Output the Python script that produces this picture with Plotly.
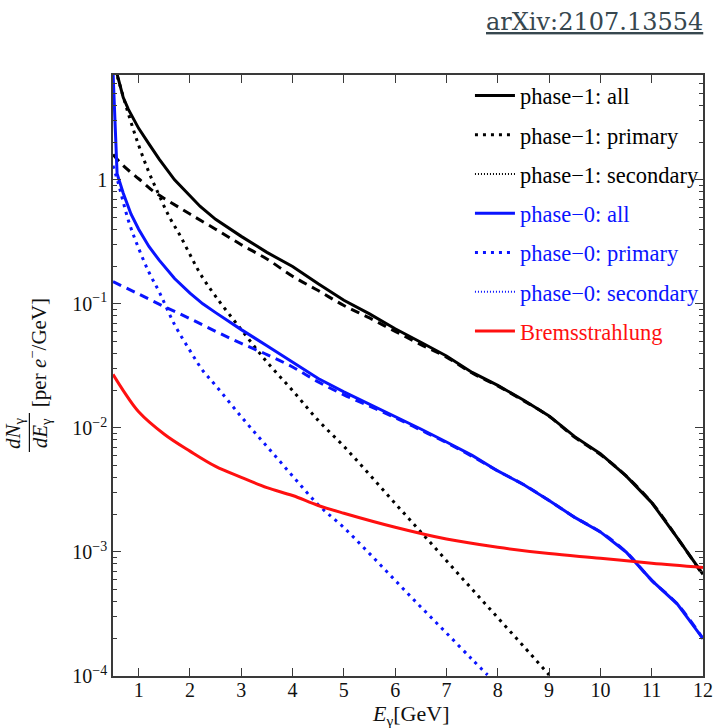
import plotly.graph_objects as go

# ---- photon spectra dN/dE [per e-/GeV] vs photon energy E [GeV] ----
p1_all_E = [0.5, 0.58, 0.7, 0.8, 1.0, 1.2, 1.4, 1.7, 2.0, 2.2, 2.5, 3.0, 3.5, 4.0, 4.5, 5.0,
            5.5, 6.0, 6.5, 7.0, 7.5, 8.0, 8.5, 9.0, 9.5, 10.0, 10.5, 11.0, 11.5, 12.0]
p1_all = [9.5, 7.0, 4.6, 3.7, 2.6, 1.95, 1.47, 1.0, 0.74, 0.61, 0.48, 0.35, 0.26, 0.2, 0.145, 0.107,
          0.083, 0.063, 0.049, 0.038, 0.028, 0.022, 0.0168, 0.0125, 0.0085, 0.0062, 0.0041, 0.0025, 0.0013, 0.00066]

p1_pri_E = [0.5, 0.7, 1.0, 1.3, 1.6, 2.0, 2.5, 3.0, 3.5, 4.0, 4.5, 5.0, 5.5, 6.0, 6.5, 7.0,
            7.5, 8.0, 8.5, 9.0, 9.5, 10.0, 10.5, 11.0, 11.5, 12.0]
p1_pri = [1.6, 1.3, 1.02, 0.8, 0.668, 0.53, 0.4, 0.3, 0.23, 0.167, 0.128, 0.097, 0.077, 0.060, 0.047, 0.0372,
          0.0277, 0.0218, 0.0166, 0.0124, 0.0084, 0.0061, 0.0041, 0.0025, 0.0013, 0.00065]

p1_sec_E = [0.5, 0.6, 0.8, 1.0, 1.2, 1.4, 1.6, 1.8, 2.0, 2.2, 2.5, 3.0, 3.5, 4.0, 4.5, 5.0,
            5.5, 6.0, 6.5, 7.0, 7.5, 8.0, 8.5, 9.0]
p1_sec = [9.0, 6.5, 3.4, 1.9, 1.15, 0.75, 0.5, 0.36, 0.25, 0.175, 0.115, 0.062, 0.034, 0.02, 0.0115, 0.0071,
          0.0042, 0.00246, 0.00145, 0.00085, 0.0005, 0.000295, 0.000174, 0.000102]

p0_all_E = [0.5, 0.54, 0.58, 0.7, 0.85, 1.0, 1.2, 1.4, 1.7, 2.0, 2.25, 2.5, 3.0, 3.5, 4.0, 4.5, 5.0,
            5.5, 6.0, 6.5, 7.0, 7.5, 8.0, 8.5, 9.0, 9.5, 10.0, 10.5, 11.0, 11.5, 12.0]
p0_all = [7.5, 2.5, 1.12, 0.78, 0.53, 0.4, 0.29, 0.225, 0.16, 0.122, 0.1, 0.085, 0.062, 0.046, 0.034, 0.025, 0.0195,
          0.0155, 0.0125, 0.0098, 0.0077, 0.006, 0.0045, 0.0035, 0.0026, 0.0019, 0.00145, 0.001, 0.00059, 0.00038, 0.0002]

p0_pri_E = [0.5, 1.0, 1.5, 2.0, 2.5, 3.0, 3.5, 4.0, 4.5, 5.0, 5.5, 6.0, 6.5, 7.0,
            7.5, 8.0, 8.5, 9.0, 9.5, 10.0, 10.5, 11.0, 11.5, 12.0]
p0_pri = [0.151, 0.12, 0.095, 0.076, 0.06, 0.048, 0.039, 0.031, 0.0235, 0.0185, 0.015, 0.0121, 0.0096, 0.0076,
          0.0059, 0.0045, 0.0035, 0.0026, 0.0019, 0.00145, 0.001, 0.00059, 0.00038, 0.0002]

p0_sec_E = [0.5, 0.6, 0.8, 1.0, 1.2, 1.4, 1.7, 2.0, 2.25, 2.5, 3.0, 3.5, 4.0, 4.5, 5.0, 5.5, 6.0, 6.5, 7.0, 7.5, 7.8]
p0_sec = [1.3, 0.95, 0.47, 0.28, 0.18, 0.125, 0.068, 0.042, 0.029, 0.022, 0.0123, 0.0071, 0.0041, 0.0024,
          0.00157, 0.00097, 0.00059, 0.00036, 0.000222, 0.000136, 0.000102]

brems_E = [0.5, 0.7, 1.0, 1.5, 2.0, 2.5, 3.0, 3.5, 4.0, 4.5, 5.0, 6.0, 7.0, 8.0, 9.0, 10.0, 11.0, 12.0]
brems = [0.027, 0.02, 0.0135, 0.0089, 0.0065, 0.0049, 0.0040, 0.0033, 0.00285, 0.00237, 0.00205,
         0.00158, 0.00127, 0.00109, 0.00097, 0.00089, 0.00081, 0.00075]

y_tickvals = [1e-4, 1e-3, 1e-2, 1e-1, 1]
y_ticktext = ["10<sup>−4</sup>", "10<sup>−3</sup>", "10<sup>−2</sup>", "10<sup>−1</sup>", "1"]
y_minor = [k * 10.0 ** e for e in range(-4, 1) for k in range(2, 10)]
x_tickvals = list(range(1, 13))

BLACK = "#000000"
BLUE = "#0a14ff"
RED = "#ff1010"
SERIF = "Liberation Serif"
AXC = "#3a3a3a"
TXT = "#111111"

DASH_PRI = "9px,6px"
DOT_SEC = "3px,5px"

fig = go.Figure()

# plotted curves (legend keys are added separately below)
curves = [
    (p1_all_E, p1_all, BLACK, "solid", "linear"),
    (p1_pri_E, p1_pri, BLACK, DASH_PRI, "spline"),
    (p1_sec_E, p1_sec, BLACK, DOT_SEC, "spline"),
    (p0_all_E, p0_all, BLUE, "solid", "linear"),
    (p0_pri_E, p0_pri, BLUE, DASH_PRI, "spline"),
    (p0_sec_E, p0_sec, BLUE, DOT_SEC, "spline"),
    (brems_E, brems, RED, "solid", "spline"),
]
for xs, ys, col, dash, shape in curves:
    fig.add_trace(go.Scatter(x=xs, y=ys, mode="lines", showlegend=False,
                             line=dict(color=col, width=3, dash=dash, shape=shape)))

# legend keys
legend_items = [
    ("phase−1: all", BLACK, "solid", 3),
    ("phase−1: primary", BLACK, "3px,5px", 3),
    ("phase−1: secondary", BLACK, "1px,2px", 2),
    ("phase−0: all", BLUE, "solid", 3),
    ("phase−0: primary", BLUE, "3px,5px", 3),
    ("phase−0: secondary", BLUE, "1px,2px", 2),
    ("Bremsstrahlung", RED, "solid", 3),
]
for i, (name, col, dash, w) in enumerate(legend_items):
    fig.add_trace(go.Scatter(x=[None], y=[None], mode="lines",
                             name=f"<span style='color:{col}'>{name}</span>",
                             legendgroup=f"g{i}",
                             line=dict(color=col, width=w, dash=dash)))

axis_common = dict(showline=True, linecolor=AXC, linewidth=1.5, mirror="allticks",
                   ticks="inside", ticklen=8, tickwidth=1.2, tickcolor=AXC,
                   showgrid=False, zeroline=False,
                   tickfont=dict(family=SERIF, size=20, color=TXT))

fig.update_xaxes(range=[0.5, 12], tickvals=x_tickvals, ticklabelstandoff=-5, **axis_common)
fig.update_yaxes(type="log", range=[-4, 0.845], tickvals=y_tickvals, ticktext=y_ticktext,
                 minor=dict(ticks="inside", ticklen=4, tickwidth=1, tickcolor=AXC,
                            tickvals=y_minor, showgrid=False),
                 **axis_common)

lab_font = dict(family=SERIF, size=21, color=TXT)

fig.update_layout(
    width=725, height=728,
    margin=dict(l=113, r=12, t=75, b=52),
    paper_bgcolor="white", plot_bgcolor="white",
    font=dict(family=SERIF, size=20, color=TXT),
    legend=dict(x=0.605, y=1.001, xanchor="left", yanchor="top",
                bgcolor="rgba(255,255,255,0)", borderwidth=0,
                font=dict(family=SERIF, size=22.5, color=TXT),
                tracegroupgap=7, itemwidth=40),
    annotations=[
        # y-axis label: fraction dN/dE followed by the unit
        dict(text="<i>dN</i><sub>γ</sub>", xref="paper", yref="paper",
             x=-0.168, y=0.404, textangle=-90, xanchor="center", yanchor="middle",
             showarrow=False, font=lab_font),
        dict(text="<i>dE</i><sub>γ</sub>", xref="paper", yref="paper",
             x=-0.122, y=0.404, textangle=-90, xanchor="center", yanchor="middle",
             showarrow=False, font=lab_font),
        dict(text="[per <i>e</i><sup>−</sup>/GeV]", xref="paper", yref="paper",
             x=-0.128, y=0.538, textangle=-90, xanchor="center", yanchor="middle",
             showarrow=False, font=lab_font),
        dict(text="<i>E</i><sub>γ</sub>[GeV]", xref="paper", yref="paper",
             x=0.505, y=-0.065, xanchor="center", yanchor="middle", showarrow=False,
             font=dict(family=SERIF, size=22, color=TXT)),
        dict(text="<u>arXiv:2107.13554</u>", xref="paper", yref="paper",
             x=0.816, y=1.088, xanchor="center", yanchor="middle", showarrow=False,
             font=dict(family="DejaVu Serif", size=24, color="#37474f")),
    ],
    shapes=[
        dict(type="line", xref="paper", yref="paper", x0=-0.1417, x1=-0.1417,
             y0=0.3727, y1=0.4376, line=dict(color=TXT, width=1.2)),
    ],
)

fig.write_html("out.html")
